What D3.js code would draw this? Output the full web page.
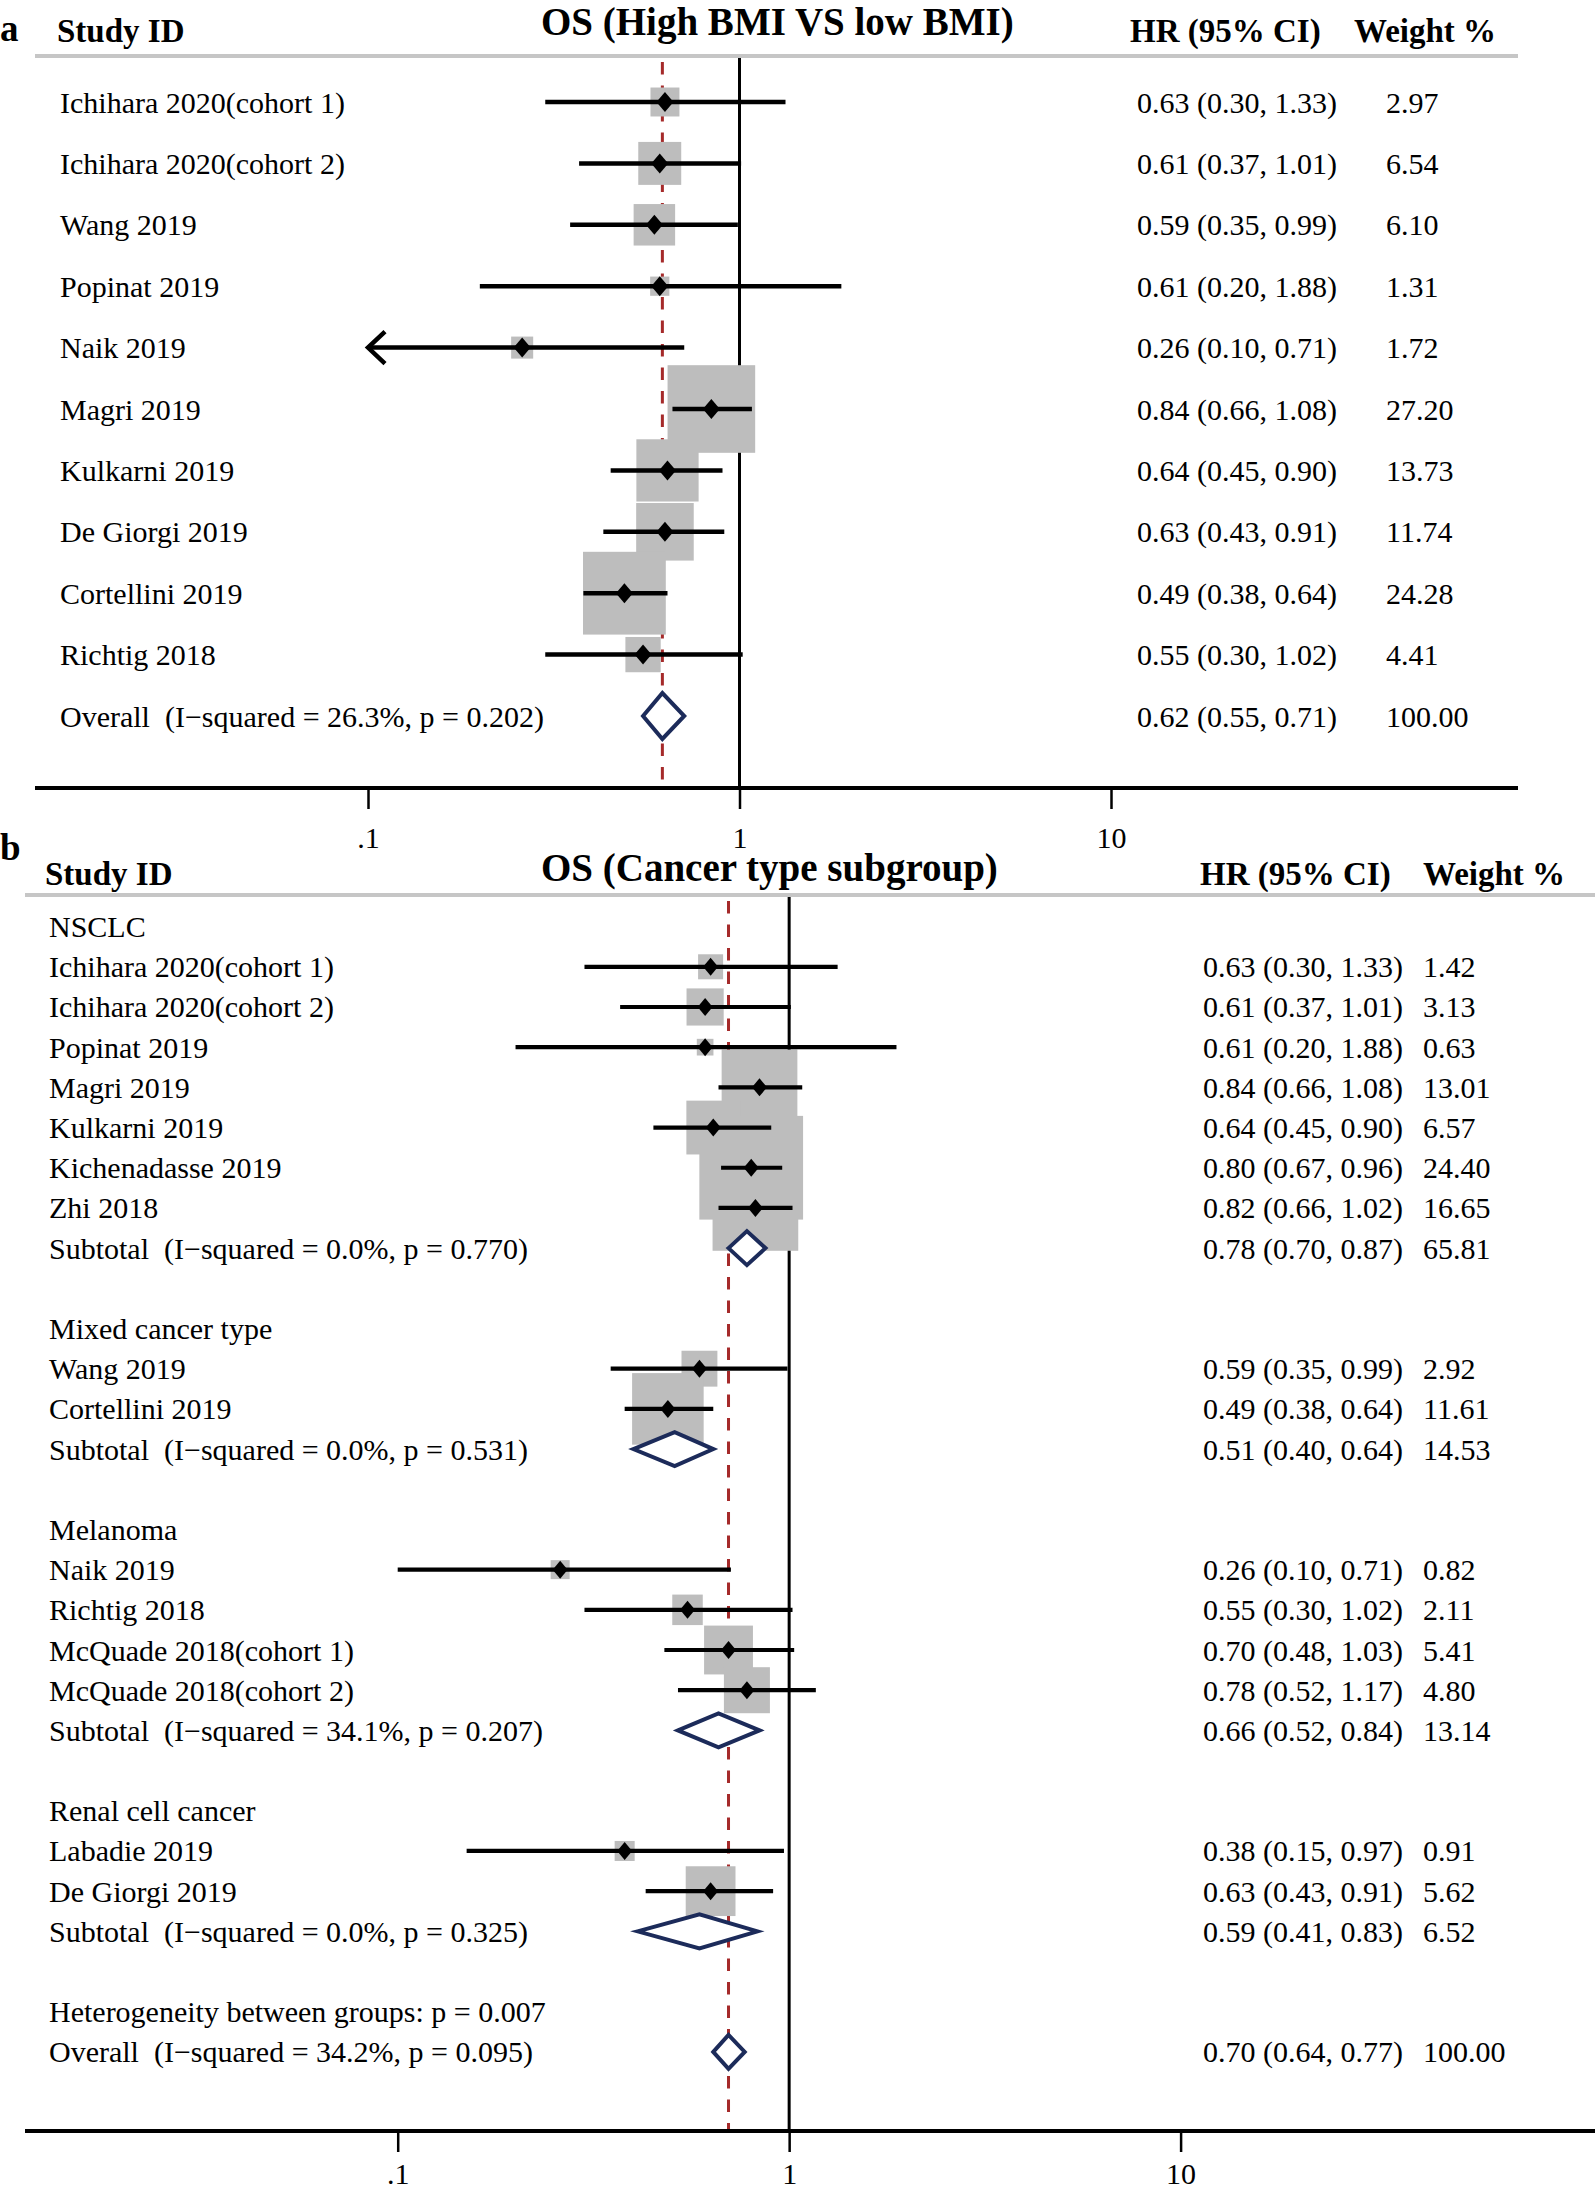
<!DOCTYPE html>
<html><head><meta charset="utf-8">
<script src="https://cdn.jsdelivr.net/npm/d3@7"></script>
<style>
html,body{margin:0;padding:0;background:#fff;}
text{font-family:"Liberation Serif","Times New Roman",serif;white-space:pre;fill:#000;}
</style></head>
<body>
<svg id="chart" width="1595" height="2188"></svg>
<script>
// ---------- Panel a data ----------
const studiesA = ["Ichihara 2020(cohort 1)","Ichihara 2020(cohort 2)","Wang 2019","Popinat 2019","Naik 2019","Magri 2019","Kulkarni 2019","De Giorgi 2019","Cortellini 2019","Richtig 2018","Overall  (I\u2212squared = 26.3%, p = 0.202)"];
const typeA   = ["study","study","study","study","study","study","study","study","study","study","overall"];
const hrA     = [0.63,0.61,0.59,0.61,0.26,0.84,0.64,0.63,0.49,0.55,0.62];
const loA     = [0.30,0.37,0.35,0.20,0.10,0.66,0.45,0.43,0.38,0.30,0.55];
const hiA     = [1.33,1.01,0.99,1.88,0.71,1.08,0.90,0.91,0.64,1.02,0.71];
const wtA     = [2.97,6.54,6.10,1.31,1.72,27.20,13.73,11.74,24.28,4.41,100.00];

// ---------- Panel b data ----------
const labelsB = ["NSCLC","Ichihara 2020(cohort 1)","Ichihara 2020(cohort 2)","Popinat 2019","Magri 2019","Kulkarni 2019","Kichenadasse 2019","Zhi 2018","Subtotal  (I\u2212squared = 0.0%, p = 0.770)","",
 "Mixed cancer type","Wang 2019","Cortellini 2019","Subtotal  (I\u2212squared = 0.0%, p = 0.531)","",
 "Melanoma","Naik 2019","Richtig 2018","McQuade 2018(cohort 1)","McQuade 2018(cohort 2)","Subtotal  (I\u2212squared = 34.1%, p = 0.207)","",
 "Renal cell cancer","Labadie 2019","De Giorgi 2019","Subtotal  (I\u2212squared = 0.0%, p = 0.325)","",
 "Heterogeneity between groups: p = 0.007","Overall  (I\u2212squared = 34.2%, p = 0.095)"];
const typeB = ["head","study","study","study","study","study","study","study","sub","blank",
 "head","study","study","sub","blank",
 "head","study","study","study","study","sub","blank",
 "head","study","study","sub","blank",
 "het","overall"];
const hrB = [null,0.63,0.61,0.61,0.84,0.64,0.80,0.82,0.78,null, null,0.59,0.49,0.51,null, null,0.26,0.55,0.70,0.78,0.66,null, null,0.38,0.63,0.59,null, null,0.70];
const loB = [null,0.30,0.37,0.20,0.66,0.45,0.67,0.66,0.70,null, null,0.35,0.38,0.40,null, null,0.10,0.30,0.48,0.52,0.52,null, null,0.15,0.43,0.41,null, null,0.64];
const hiB = [null,1.33,1.01,1.88,1.08,0.90,0.96,1.02,0.87,null, null,0.99,0.64,0.64,null, null,0.71,1.02,1.03,1.17,0.84,null, null,0.97,0.91,0.83,null, null,0.77];
const wtB = [null,1.42,3.13,0.63,13.01,6.57,24.40,16.65,65.81,null, null,2.92,11.61,14.53,null, null,0.82,2.11,5.41,4.80,13.14,null, null,0.91,5.62,6.52,null, null,100.00];

// ---------- Axis ----------
const tickValues = [0.1,1,10];
const tickLabels = [".1","1","10"];

const svg = d3.select("#chart");
svg.append("rect").attr("width",1595).attr("height",2188).attr("fill","#fff");

const fmt = v => v.toFixed(2);

function panel(cfg){
  const g = svg.append("g");
  const x = d3.scaleLog().domain([0.1,10]).range(cfg.range);
  const y = i => cfg.y0 + i*cfg.dy;
  const n = cfg.labels.length;

  // header
  g.append("text").attr("x",0).attr("y",cfg.letterY).attr("dominant-baseline","central")
    .attr("font-size",37).attr("font-weight","bold").text(cfg.letter);
  g.append("text").attr("x",cfg.studyX).attr("y",cfg.headY).attr("dominant-baseline","central")
    .attr("font-size",33).attr("font-weight","bold").text("Study ID");
  g.append("text").attr("x",541).attr("y",cfg.titleY).attr("dominant-baseline","central")
    .attr("font-size",39).attr("font-weight","bold").text(cfg.title);
  g.append("text").attr("x",cfg.hrHeadX).attr("y",cfg.headY).attr("dominant-baseline","central")
    .attr("font-size",33).attr("font-weight","bold").text("HR (95% CI)");
  g.append("text").attr("x",cfg.wHeadX).attr("y",cfg.headY).attr("dominant-baseline","central")
    .attr("font-size",33).attr("font-weight","bold").text("Weight %");
  g.append("line").attr("x1",cfg.lineX[0]).attr("x2",cfg.lineX[1]).attr("y1",cfg.headLineY).attr("y2",cfg.headLineY)
    .attr("stroke","#c6c6c6").attr("stroke-width",4);

  // reference lines
  g.append("line").attr("x1",x(1)).attr("x2",x(1)).attr("y1",cfg.headLineY+2).attr("y2",cfg.axisY)
    .attr("stroke","#000").attr("stroke-width",3);
  const ov = cfg.types.indexOf("overall");
  g.append("line").attr("x1",x(cfg.hr[ov])).attr("x2",x(cfg.hr[ov])).attr("y1",cfg.headLineY+6).attr("y2",cfg.axisY)
    .attr("stroke","#a52a2a").attr("stroke-width",3).attr("stroke-dasharray","12.5 11");

  // boxes
  cfg.types.forEach((t,i)=>{
    if(t!=="study") return;
    const s = cfg.k*Math.sqrt(cfg.wt[i]);
    g.append("rect").attr("x",x(cfg.hr[i])-s/2).attr("y",y(i)-s/2).attr("width",s).attr("height",s)
      .attr("fill","#bdbdbd");
  });
  // CI lines + markers
  cfg.types.forEach((t,i)=>{
    if(t!=="study") return;
    const clip = cfg.arrow && cfg.lo[i] <= 0.1;
    const xl = x(Math.max(cfg.lo[i],0.1));
    g.append("line").attr("x1",xl).attr("x2",x(cfg.hi[i])).attr("y1",y(i)).attr("y2",y(i))
      .attr("stroke","#000").attr("stroke-width",cfg.lw);
    if(clip){
      g.append("path").attr("d",`M${xl+17},${y(i)-16}L${xl},${y(i)}L${xl+17},${y(i)+16}`)
        .attr("fill","none").attr("stroke","#000").attr("stroke-width",cfg.lw);
    }
    const cx = x(cfg.hr[i]), cy = y(i);
    g.append("path").attr("d",`M${cx-cfg.mw},${cy}L${cx},${cy-cfg.mh}L${cx+cfg.mw},${cy}L${cx},${cy+cfg.mh}Z`)
      .attr("fill","#000");
  });
  // diamonds
  cfg.types.forEach((t,i)=>{
    if(t!=="sub" && t!=="overall") return;
    const h = t==="overall" ? cfg.ovH : cfg.subH;
    const cx = x(cfg.hr[i]), cy = y(i);
    g.append("path").attr("d",`M${x(cfg.lo[i])},${cy}L${cx},${cy-h}L${x(cfg.hi[i])},${cy}L${cx},${cy+h}Z`)
      .attr("fill","#fff").attr("stroke","#1c2b5a").attr("stroke-width",4).attr("stroke-linejoin","miter");
  });

  // texts
  cfg.labels.forEach((lab,i)=>{
    if(!lab) return;
    g.append("text").attr("x",cfg.textX).attr("y",y(i)).attr("dominant-baseline","central")
      .attr("font-size",cfg.fs).text(lab);
    if(cfg.hr[i]!=null){
      g.append("text").attr("x",cfg.hrX).attr("y",y(i)).attr("dominant-baseline","central")
        .attr("font-size",cfg.fs).text(`${fmt(cfg.hr[i])} (${fmt(cfg.lo[i])}, ${fmt(cfg.hi[i])})`);
      g.append("text").attr("x",cfg.wX).attr("y",y(i)).attr("dominant-baseline","central")
        .attr("font-size",cfg.fs).text(fmt(cfg.wt[i]));
    }
  });

  // axis
  g.append("line").attr("x1",cfg.axisX[0]).attr("x2",cfg.axisX[1]).attr("y1",cfg.axisY).attr("y2",cfg.axisY)
    .attr("stroke","#000").attr("stroke-width",4);
  const ax = g.append("g").attr("transform",`translate(0,${cfg.axisY})`)
    .call(d3.axisBottom(x).tickValues(tickValues).tickFormat((d,i)=>tickLabels[i]).tickSize(21));
  ax.select(".domain").remove();
  ax.selectAll(".tick line").attr("stroke","#000").attr("stroke-width",2.5);
  ax.selectAll(".tick text").attr("y",cfg.tickLabelDy).attr("dy",null).attr("dominant-baseline","central")
    .attr("font-size",cfg.fs).attr("font-family","Liberation Serif").attr("fill","#000");
}

panel({
  letter:"a", letterY:28, studyX:57, headY:31, titleY:21, hrHeadX:1130, wHeadX:1354,
  title:"OS (High BMI VS low BMI)", headLineY:56, lineX:[35,1518],
  range:[368,1111], y0:102, dy:61.4, labels:studiesA, types:typeA, hr:hrA, lo:loA, hi:hiA, wt:wtA,
  k:16.8, lw:4.5, mw:8.5, mh:10, subH:17, ovH:23, arrow:true,
  textX:60, hrX:1137, wX:1386, fs:30,
  axisY:788, axisX:[35,1518], tickLabelDy:49
});
panel({
  letter:"b", letterY:847, studyX:45, headY:874, titleY:867, hrHeadX:1200, wHeadX:1423,
  title:"OS (Cancer type subgroup)", headLineY:895, lineX:[25,1595],
  range:[397.7,1180.6], y0:926.6, dy:40.19, labels:labelsB, types:typeB, hr:hrB, lo:loB, hi:hiB, wt:wtB,
  k:21, lw:4.2, mw:7.5, mh:9, subH:17, ovH:17, arrow:false,
  textX:49, hrX:1203, wX:1423, fs:30,
  axisY:2131, axisX:[25,1595], tickLabelDy:42
});
</script>
</body></html>
